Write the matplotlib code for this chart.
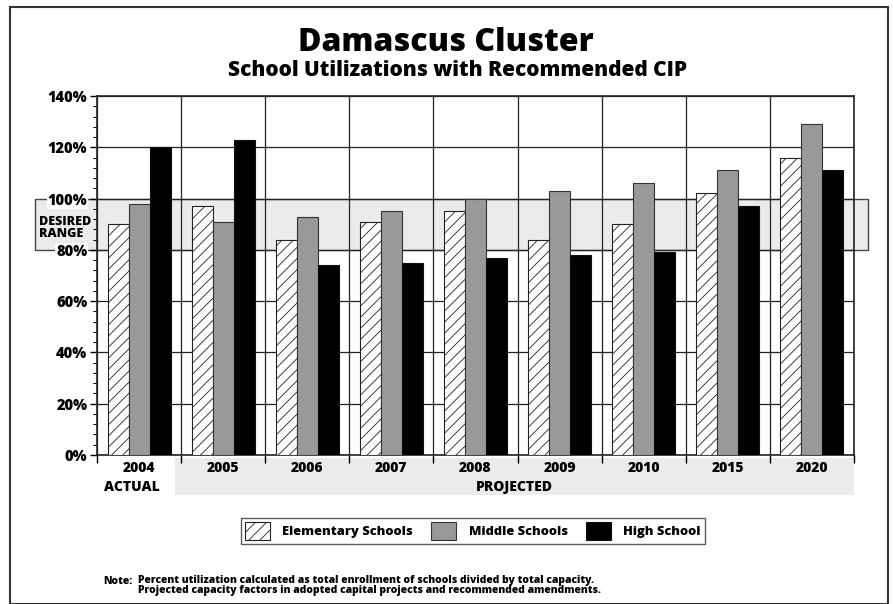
import numpy as np
import matplotlib
matplotlib.use("Agg")
import matplotlib.pyplot as plt
from matplotlib.patches import Rectangle
from matplotlib.transforms import blended_transform_factory

# 数据
years = ["2004", "2005", "2006", "2007", "2008", "2009", "2010", "2015", "2020"]
elementary = [90, 97, 84, 91, 95, 84, 90, 102, 116]
middle = [98, 91, 93, 95, 100, 103, 106, 111, 129]
high = [120, 123, 74, 75, 77, 78, 79, 97, 111]
series_names = ["Elementary Schools", "Middle Schools", "High School"]
desired_low, desired_high = 80, 100

plt.rcParams.update({
    "font.family": ["Open Sans", "DejaVu Sans"],
    "font.weight": "bold",
    "hatch.linewidth": 0.6,
})

W, H = 893, 604
fig = plt.figure(figsize=(W / 100, H / 100), dpi=100)


def fx(px):
    return px / W


def fy(py):
    return 1 - py / H


# 外框
fig.patches.append(Rectangle((fx(10), 0), fx(888) - fx(10), fy(7), transform=fig.transFigure,
                             fill=False, edgecolor="#333333", linewidth=1.5))

ax = fig.add_axes([fx(97), fy(455), fx(854) - fx(97), fy(96) - fy(455)])

x = np.arange(len(years))
w = 0.25
ax.bar(x - w, elementary, w, color="white", edgecolor="#222222", hatch="///", linewidth=0.8, zorder=3)
ax.bar(x, middle, w, color="#999999", edgecolor="#333333", linewidth=0.8, zorder=3)
ax.bar(x + w, high, w, color="black", edgecolor="#111111", linewidth=0.8, zorder=3)

ax.set_xlim(-0.5, len(years) - 0.5)
ax.set_ylim(0, 140)

# 期望区间
trans = blended_transform_factory(fig.transFigure, ax.transData)
ax.add_patch(Rectangle((fx(35), desired_low), fx(868) - fx(35), desired_high - desired_low,
                       transform=trans, facecolor="#ebebeb", edgecolor="#444444",
                       linewidth=1.0, zorder=0.1, clip_on=False))
ax.text(fx(39), 88.5, "DESIRED\nRANGE", transform=trans, fontsize=9, fontweight="heavy",
        ha="left", va="center", linespacing=1.05, zorder=0.2)

# 坐标轴
ax.set_axisbelow(True)
ax.set_yticks(np.arange(0, 141, 20))
ax.set_yticklabels([f"{v}%" for v in range(0, 141, 20)])
ax.set_yticks(np.arange(0, 141, 4), minor=True)
ax.set_xticks(x)
ax.set_xticklabels([])
ax.set_xticks(np.arange(-0.5, len(years), 1), minor=True)
ax.tick_params(axis="y", which="major", length=5, width=1, labelsize=10.5, pad=2)
ax.tick_params(axis="y", which="minor", length=3, width=0.8)
ax.tick_params(axis="x", which="major", length=0)
ax.tick_params(axis="x", which="minor", length=6, width=1)
for lab in ax.get_yticklabels():
    lab.set_fontweight("heavy")
    lab.set_bbox(dict(facecolor="white", edgecolor="none", pad=0.5))
ax.grid(axis="y", which="major", color="#222222", linewidth=0.9)
ax.grid(axis="x", which="minor", color="#222222", linewidth=0.9)
for s in ax.spines.values():
    s.set_linewidth(1.2)
    s.set_color("#222222")

# 类别标签行
ax.add_patch(Rectangle((fx(175), fy(495)), fx(854) - fx(175), fy(458) - fy(495),
                       transform=fig.transFigure, facecolor="#ebebeb", edgecolor="none",
                       zorder=0.05, clip_on=False))
xlab = blended_transform_factory(ax.transData, fig.transFigure)
for i, yr in enumerate(years):
    ax.text(i, fy(468), yr, transform=xlab, ha="center", va="center", fontsize=10, fontweight="heavy")
fig.text(fx(132), fy(487), "ACTUAL", ha="center", va="center", fontsize=10, fontweight="heavy")
fig.text(fx(514), fy(487), "PROJECTED", ha="center", va="center", fontsize=10, fontweight="heavy")

# 标题
fig.text(fx(446), fy(43), "Damascus Cluster", ha="center", va="center", fontsize=23, fontweight="heavy")
fig.text(fx(458), fy(70), "School Utilizations with Recommended CIP", ha="center", va="center",
         fontsize=15, fontweight="heavy")

# 图例
handles = [
    Rectangle((0, 0), 1, 1, facecolor="white", edgecolor="#222222", hatch="///", linewidth=0.8),
    Rectangle((0, 0), 1, 1, facecolor="#999999", edgecolor="#333333", linewidth=0.8),
    Rectangle((0, 0), 1, 1, facecolor="black", edgecolor="#111111", linewidth=0.8),
]
leg = fig.legend(handles, series_names, loc="center", bbox_to_anchor=(fx(473), fy(531)), ncol=3,
                 frameon=True, fancybox=False, edgecolor="#333333", fontsize=9.3,
                 handlelength=1.9, handleheight=1.75, columnspacing=1.4, handletextpad=1.0,
                 borderpad=0.3)
leg.get_frame().set_linewidth(1.0)
for t in leg.get_texts():
    t.set_fontweight("heavy")

# 注释
note_kw = dict(ha="left", va="center", fontsize=7.5, fontweight="heavy")
fig.text(fx(103), fy(581), "Note:", **note_kw)
fig.text(fx(138), fy(581), "Percent utilization calculated as total enrollment of schools divided by total capacity.",
         **note_kw)
fig.text(fx(138), fy(591), "Projected capacity factors in adopted capital projects and recommended amendments.",
         **note_kw)

fig.savefig("out.png", dpi=100)
